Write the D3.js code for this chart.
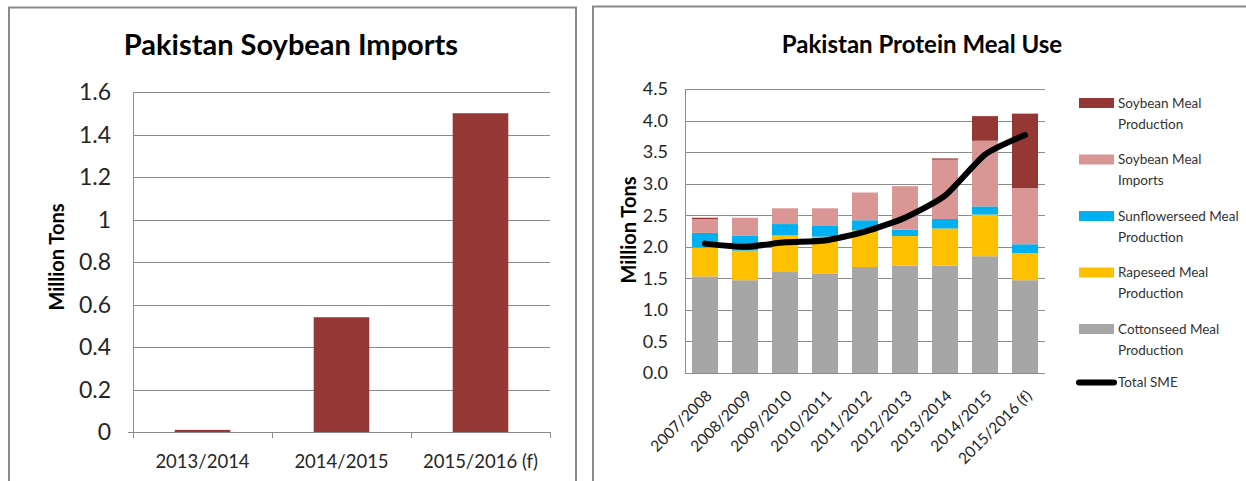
<!DOCTYPE html>
<html><head><meta charset="utf-8">
<script src="https://cdn.jsdelivr.net/npm/d3@7"></script>
<style>
body{margin:0;background:#fff;}
svg{display:block;font-family:Lato,"Open Sans",sans-serif;}
</style></head>
<body>
<svg id="c" width="1246" height="481"></svg>
<script>
// ---- Left chart data ----
const leftCategories = ["2013/2014", "2014/2015", "2015/2016 (f)"];
const soybeanImports = [0.01, 0.54, 1.50];
const leftTicks = [0, 0.2, 0.4, 0.6, 0.8, 1, 1.2, 1.4, 1.6];

// ---- Right chart data ----
const rightCategories = ["2007/2008","2008/2009","2009/2010","2010/2011","2011/2012","2012/2013","2013/2014","2014/2015","2015/2016 (f)"];
const cottonseedMeal = [1.53, 1.47, 1.60, 1.57, 1.68, 1.70, 1.70, 1.85, 1.47];
const rapeseedMeal   = [0.46, 0.47, 0.58, 0.59, 0.58, 0.47, 0.59, 0.66, 0.43];
const sunflowerMeal  = [0.23, 0.24, 0.18, 0.17, 0.16, 0.10, 0.15, 0.13, 0.14];
const soyMealImports = [0.22, 0.28, 0.25, 0.28, 0.44, 0.69, 0.94, 1.04, 0.89];
const soyMealProd    = [0.02, 0, 0, 0, 0, 0, 0.02, 0.39, 1.18];
const totalSME       = [2.05, 2.00, 2.07, 2.10, 2.24, 2.46, 2.81, 3.46, 3.77];
const rightTicks = [0, 0.5, 1.0, 1.5, 2.0, 2.5, 3.0, 3.5, 4.0, 4.5];

const seriesNames = ["Cottonseed Meal Production","Rapeseed Meal Production","Sunflowerseed Meal Production","Soybean Meal Imports","Soybean Meal Production"];
const seriesColors = ["#A6A6A6","#FFC000","#00B0F0","#D99694","#953735"];
const seriesValues = [cottonseedMeal, rapeseedMeal, sunflowerMeal, soyMealImports, soyMealProd];

const svg = d3.select("#c");
const gridColor = "#8c8c8c";
const textColor = "#262626";

// panel borders
svg.append("path").attr("d","M9,490 V7.5 H576 V490").attr("fill","none").attr("stroke","#8a8a8a").attr("stroke-width",2);
svg.append("path").attr("d","M593,490 V6.5 H1250").attr("fill","none").attr("stroke","#8a8a8a").attr("stroke-width",2);

// ================= LEFT =================
{
  const L = {x0:133, x1:550, y0:432, y1:92};
  const x = d3.scaleBand().domain(leftCategories).range([L.x0, L.x1]).paddingInner(0.6).paddingOuter(0.3);
  const y = d3.scaleLinear().domain([0,1.6]).range([L.y0, L.y1]);
  const g = svg.append("g");

  g.selectAll("line.grid").data(leftTicks).join("line")
    .attr("x1", L.x0).attr("x2", L.x1)
    .attr("y1", d=>Math.round(y(d))+0.5).attr("y2", d=>Math.round(y(d))+0.5)
    .attr("stroke", gridColor).attr("stroke-width",1);

  g.selectAll("text.yt").data(leftTicks).join("text")
    .attr("x", 111).attr("y", d=>y(d)).attr("dy","0.35em")
    .attr("text-anchor","end").attr("font-size",23).attr("fill",textColor)
    .text(d=>d3.format("")(d));

  g.append("line").attr("x1",L.x0+0.5).attr("x2",L.x0+0.5).attr("y1",L.y1).attr("y2",L.y0+6).attr("stroke",gridColor);
  const bounds = leftCategories.map(c=>x(c)-x.step()*x.paddingInner()/2 ).concat([L.x1]);
  bounds[0] = L.x0;
  g.selectAll("line.xt").data(bounds).join("line")
    .attr("x1",d=>Math.round(d)+0.5).attr("x2",d=>Math.round(d)+0.5).attr("y1",L.y0).attr("y2",L.y0+6).attr("stroke",gridColor);
  g.append("line").attr("x1",L.x0-5).attr("x2",L.x0).attr("y1",L.y0+0.5).attr("y2",L.y0+0.5).attr("stroke",gridColor);

  g.selectAll("rect.bar").data(soybeanImports).join("rect")
    .attr("x",(d,i)=>x(leftCategories[i])).attr("width",x.bandwidth())
    .attr("y",d=>y(d)).attr("height",d=>L.y0-y(d)).attr("fill","#953735");

  g.selectAll("text.xl").data(leftCategories).join("text")
    .attr("x",d=>x(d)+x.bandwidth()/2).attr("y",462).attr("dy","0.35em")
    .attr("text-anchor","middle").attr("font-size",18.5).attr("fill",textColor).text(d=>d);

  g.append("text").attr("transform","translate(57,257) rotate(-90)").attr("dy","0.35em")
    .attr("text-anchor","middle").attr("font-size",20).attr("font-weight","bold").attr("fill","#000").text("Million Tons");

  g.append("text").attr("x",291).attr("y",45).attr("dy","0.35em").attr("text-anchor","middle")
    .attr("font-size",29).attr("font-weight","bold").attr("fill","#000").text("Pakistan Soybean Imports");
}

// ================= RIGHT =================
{
  const R = {x0:685, x1:1045, y0:373, y1:89};
  const x = d3.scaleBand().domain(rightCategories).range([R.x0, R.x1]).paddingInner(0.35).paddingOuter(0.175);
  const y = d3.scaleLinear().domain([0,4.5]).range([R.y0, R.y1]);
  const g = svg.append("g");

  g.selectAll("line.grid").data(rightTicks).join("line")
    .attr("x1", R.x0).attr("x2", R.x1)
    .attr("y1", d=>Math.round(y(d))+0.5).attr("y2", d=>Math.round(y(d))+0.5)
    .attr("stroke", gridColor).attr("stroke-width",1);
  g.append("line").attr("x1",R.x0+0.5).attr("x2",R.x0+0.5).attr("y1",R.y1).attr("y2",R.y0).attr("stroke",gridColor);

  g.selectAll("text.yt").data(rightTicks).join("text")
    .attr("x", 668).attr("y", d=>y(d)).attr("dy","0.35em")
    .attr("text-anchor","end").attr("font-size",18).attr("fill",textColor)
    .text(d=>d3.format(".1f")(d));

  const rows = rightCategories.map((c,i)=>{
    const o = {cat:c};
    seriesNames.forEach((n,k)=>o[n]=seriesValues[k][i]);
    return o;
  });
  const stack = d3.stack().keys(seriesNames)(rows);
  g.selectAll("g.s").data(stack).join("g").attr("fill",(d,k)=>seriesColors[k])
    .selectAll("rect").data(d=>d).join("rect")
    .attr("x",d=>x(d.data.cat)).attr("width",x.bandwidth())
    .attr("y",d=>y(d[1])).attr("height",d=>Math.max(0,y(d[0])-y(d[1])));

  const line = d3.line().x((d,i)=>x(rightCategories[i])+x.bandwidth()/2).y(d=>y(d)).curve(d3.curveCardinal.tension(0.4));
  g.append("path").datum(totalSME).attr("d",line).attr("fill","none").attr("stroke","#000")
    .attr("stroke-width",6).attr("stroke-linecap","round").attr("stroke-linejoin","round");

  g.selectAll("text.xl").data(rightCategories).join("text")
    .attr("transform",d=>`translate(${x(d)+x.bandwidth()/2+4},${R.y0+20}) rotate(-45)`)
    .attr("dy","0.35em").attr("text-anchor","end").attr("font-size",15.5).attr("fill",textColor).text(d=>d);

  g.append("text").attr("transform","translate(629,230) rotate(-90)").attr("dy","0.35em")
    .attr("text-anchor","middle").attr("font-size",20).attr("font-weight","bold").attr("fill","#000").text("Million Tons");

  g.append("text").attr("x",922).attr("y",45).attr("dy","0.35em").attr("text-anchor","middle")
    .attr("font-size",24).attr("font-weight","bold").attr("fill","#000").text("Pakistan Protein Meal Use");

  const legendOrder = [4,3,2,1,0];
  const lg = g.append("g");
  legendOrder.forEach((k,j)=>{
    const yy = 98 + j*56.5;
    lg.append("rect").attr("x",1079).attr("y",yy).attr("width",35).attr("height",10).attr("fill",seriesColors[k]);
    const words = seriesNames[k].split(" ");
    const last = words.pop();
    const t = lg.append("text").attr("x",1118).attr("y",yy+5).attr("dy","0.35em").attr("font-size",13.5).attr("fill","#333");
    t.append("tspan").attr("x",1118).text(words.join(" "));
    t.append("tspan").attr("x",1118).attr("dy","1.55em").text(last);
  });
  const ly = 98 + 5*56.5 + 2;
  lg.append("line").attr("x1",1079).attr("x2",1114).attr("y1",ly).attr("y2",ly).attr("stroke","#000").attr("stroke-width",6).attr("stroke-linecap","round");
  lg.append("text").attr("x",1118).attr("y",ly).attr("dy","0.35em").attr("font-size",13.5).attr("fill","#333").text("Total SME");
}
</script>
</body></html>
